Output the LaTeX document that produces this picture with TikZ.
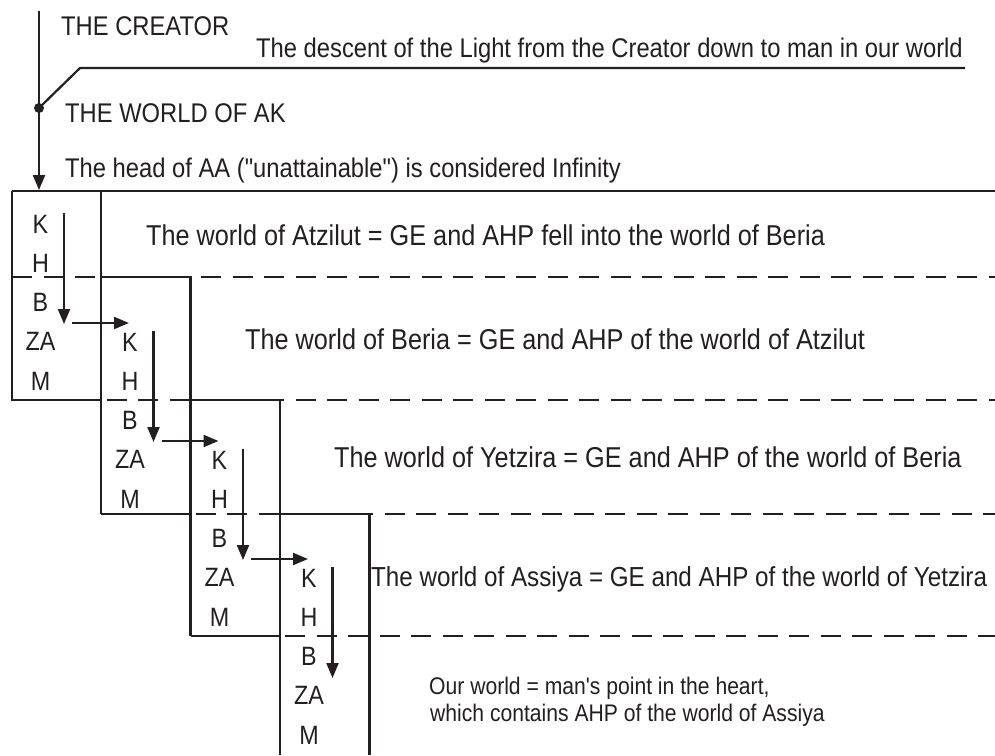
\documentclass[tikz,border=0pt]{standalone}
\usepackage{fontspec}
\newfontfamily\lib{Liberation Sans}[FakeStretch=0.88]
\usetikzlibrary{arrows.meta}
\definecolor{ink}{RGB}{35,31,32}
\begin{document}
\begin{tikzpicture}[x=1pt,y=-1pt,
  boxline/.style={draw=ink,line width=2.2pt},
  dashline/.style={draw=ink,line width=2.2pt,dash pattern=on 20pt off 11.5pt},
  arr/.style={draw=ink,line width=2.2pt,-{Triangle[length=15pt,width=12pt]}},
  letter/.style={anchor=base,inner sep=0pt,text=ink,font=\lib\fontsize{26.5}{28}\selectfont},
  txt/.style={anchor=base west,inner sep=0pt,text=ink,font=\lib\fontsize{28.7}{30}\selectfont},
  hdr/.style={anchor=base west,inner sep=0pt,text=ink,font=\lib\fontsize{27}{30}\selectfont},
  small/.style={anchor=base west,inner sep=0pt,text=ink,font=\lib\fontsize{24}{26}\selectfont}]
\useasboundingbox (0,0) rectangle (995,755);

% header
\coordinate (top) at (39,11);
\coordinate (dot) at (39,108);
\coordinate (tip) at (39,190);
\coordinate (bend) at (80,68);
\coordinate (lend) at (965,68);
\draw[arr] (top) -- (tip);
\fill[ink] (dot) circle (5pt);
\draw[boxline] (dot) -- (bend) -- (lend);
\node[hdr] (creator) at (61,35) {THE CREATOR};
\node[hdr] (descent) at (256,57) {The descent of the Light from the Creator down to man in our world};
\node[hdr] (ak) at (65,122) {THE WORLD OF AK};
\node[hdr] (head) at (65,177) {The head of AA ("unattainable") is considered Infinity};

% dashed level lines
\draw[dashline] (12,277) -- (995,277);
\draw[dashline] (12,400) -- (995,400);
\draw[dashline] (101,514) -- (995,514);
\draw[dashline] (190.5,636) -- (995,636);

% boxes
\draw[boxline] (12,191) -- (995,191);
\draw[boxline] (101,191) -- (101,514);
\draw[boxline] (12,191) -- (12,400) -- (101,400);
\draw[boxline] (101,277) -- (190.5,277) -- (190.5,636);
\draw[boxline] (101,514) -- (190.5,514);
\draw[boxline] (190.5,400) -- (280,400) -- (280,755);
\draw[boxline] (190.5,636) -- (280,636);
\draw[boxline] (280,514) -- (369.5,514) -- (369.5,755);

% letters and arrows
\foreach \k in {0,1,2,3}{
  \pgfmathsetmacro\cx{40.5+89.5*\k}
  \pgfmathsetmacro\by{233+118*\k}
  \foreach \l [count=\j from 0] in {K,H,B,ZA,M}{
    \node[letter] (\l\k) at (\cx,{\by+39.3*\j}) {\l};
  }
  \coordinate (vs\k) at ({64+89.5*\k},{213+118*\k});
  \coordinate (ve\k) at ({64+89.5*\k},{324+118*\k});
  \draw[arr] (vs\k) -- (ve\k);
}
\foreach \k in {0,1,2}{
  \coordinate (hs\k) at ({72+89.5*\k},{323+118*\k});
  \coordinate (he\k) at ({129+89.5*\k},{323+118*\k});
  \draw[arr] (hs\k) -- (he\k);
}

% world texts
\node[txt] (atz) at (146,245) {The world of Atzilut = GE and AHP fell into the world of Beria};
\node[txt] (ber) at (245,349) {The world of Beria = GE and AHP of the world of Atzilut};
\node[txt] (yet) at (334,467) {The world of Yetzira = GE and AHP of the world of Beria};
\node[txt,font=\lib\fontsize{27.5}{30}\selectfont] (ass) at (371,586) {The world of Assiya = GE and AHP of the world of Yetzira};
\node[small] (our1) at (429,694) {Our world = man's point in the heart,};
\node[small] (our2) at (430,721) {which contains AHP of the world of Assiya};
\end{tikzpicture}
\end{document}
